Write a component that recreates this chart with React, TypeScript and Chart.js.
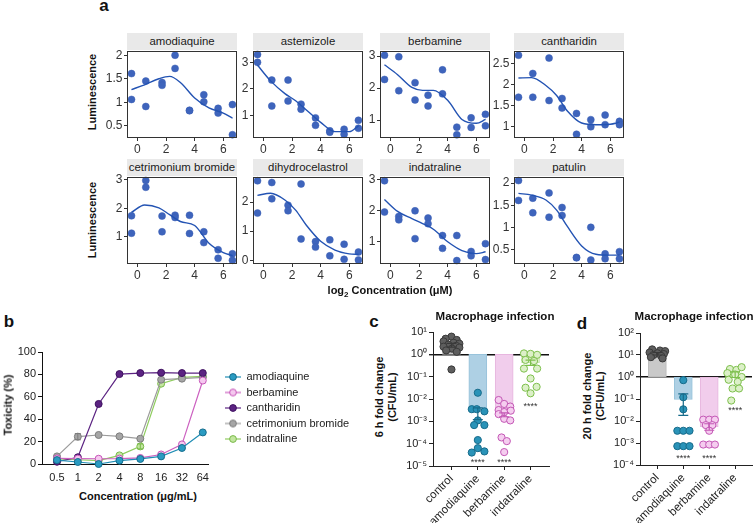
import React, { useEffect, useRef } from 'react';
import { Chart, registerables } from 'chart.js';

Chart.register(...registerables);

const FONT = "'Liberation Sans', Arial, Helvetica, sans-serif";
Chart.defaults.font.family = FONT;
Chart.defaults.font.size = 11;
Chart.defaults.color = '#222';

// ================= Panel a data =================
const aDoseLog2 = [-0.415, 0.585, 1.72, 2.63, 3.64, 4.64, 5.64, 6.64];
const aFitLog2 = [-0.42, 0.5, 1.5, 2.25, 3, 4, 5, 6, 6.65];
const aXTicks = [0, 2, 4, 6];
const aXRange = [-0.73, 6.96];

const amodiaquineRep1 = [1.61, 1.45, 1.42, 2.0, 0.83, 1.16, 0.87, 0.95];
const amodiaquineRep2 = [1.06, 0.91, 1.36, 1.72, 0.82, 1.01, 0.77, 0.31];
const amodiaquineFit = [1.27, 1.37, 1.5, 1.55, 1.42, 1.09, 0.88, 0.77, 0.66];
const amodiaquineYTicks = [0.5, 1, 1.5, 2];
const amodiaquineYRange = [0.24, 2.09];

const astemizoleRep1 = [3.3, 2.33, 2.33, 1.42, 0.9, 0.41, 0.47, 0.81];
const astemizoleRep2 = [3.0, 1.35, 1.54, 1.23, 0.62, 0.36, 0.28, 0.51];
const astemizoleFit = [2.9, 2.3, 1.82, 1.55, 1.2, 0.73, 0.38, 0.38, 0.6];
const astemizoleYTicks = [1, 2, 3];
const astemizoleYRange = [0.14, 3.43];

const berbamineRep1 = [3.03, 2.98, 2.17, 1.78, 2.57, 0.78, 1.07, 1.18];
const berbamineRep2 = [2.27, 1.92, 1.63, 1.44, 1.82, 0.54, 0.77, 0.82];
const berbamineFit = [2.73, 2.42, 2.02, 1.93, 1.93, 1.62, 1.02, 0.9, 1.02];
const berbamineYTicks = [1, 2, 3];
const berbamineYRange = [0.44, 3.16];

const cantharidinRep1 = [2.71, 2.27, 2.64, 1.67, 1.31, 1.16, 1.27, 1.12];
const cantharidinRep2 = [1.7, 1.7, 1.62, 1.44, 0.81, 0.99, 1.04, 1.04];
const cantharidinFit = [2.16, 2.17, 1.98, 1.74, 1.37, 1.08, 1.04, 1.05, 1.1];
const cantharidinYTicks = [1, 1.5, 2, 2.5];
const cantharidinYRange = [0.72, 2.81];

const cetrimoniumRep1 = [1.74, 2.98, 1.73, 1.76, 1.76, 1.18, 0.55, 0.41];
const cetrimoniumRep2 = [1.13, 2.74, 1.18, 1.68, 1.12, 0.8, 0.25, 0.18];
const cetrimoniumFit = [1.86, 2.12, 2.02, 1.78, 1.54, 1.4, 0.78, 0.45, 0.34];
const cetrimoniumYTicks = [1, 2, 3];
const cetrimoniumYRange = [0.05, 3.1];

const dihydrocelastrolRep1 = [2.73, 2.67, 1.89, 2.62, 0.64, 0.7, 0.55, 0.28];
const dihydrocelastrolRep2 = [1.62, 2.11, 1.7, 0.73, 0.45, 0.15, 0.03, 0.01];
const dihydrocelastrolFit = [2.23, 2.3, 2.07, 1.72, 1.2, 0.65, 0.35, 0.22, 0.2];
const dihydrocelastrolYTicks = [0, 1, 2];
const dihydrocelastrolYRange = [-0.13, 2.86];

const indatralineRep1 = [2.95, 1.81, 1.99, 1.76, 1.2, 1.2, 0.69, 0.94];
const indatralineRep2 = [1.95, 1.7, 1.1, 1.58, 0.79, 0.4, 0.55, 0.43];
const indatralineFit = [2.35, 1.97, 1.74, 1.58, 1.4, 1.0, 0.72, 0.62, 0.68];
const indatralineYTicks = [1, 2, 3];
const indatralineYRange = [0.29, 3.07];

const patulinRep1 = [2.06, 1.66, 1.78, 1.45, 0.32, 1.0, 0.4, 0.45];
const patulinRep2 = [1.61, 1.33, 1.23, 1.27, 0.31, 0.26, 0.29, 0.29];
const patulinFit = [1.77, 1.73, 1.62, 1.39, 1.02, 0.58, 0.39, 0.37, 0.37];
const patulinYTicks = [0.5, 1, 1.5, 2];
const patulinYRange = [0.17, 2.14];

const aPanels = [
  { name: 'amodiaquine', rep1: amodiaquineRep1, rep2: amodiaquineRep2, fit: amodiaquineFit, ticks: amodiaquineYTicks, range: amodiaquineYRange },
  { name: 'astemizole', rep1: astemizoleRep1, rep2: astemizoleRep2, fit: astemizoleFit, ticks: astemizoleYTicks, range: astemizoleYRange },
  { name: 'berbamine', rep1: berbamineRep1, rep2: berbamineRep2, fit: berbamineFit, ticks: berbamineYTicks, range: berbamineYRange },
  { name: 'cantharidin', rep1: cantharidinRep1, rep2: cantharidinRep2, fit: cantharidinFit, ticks: cantharidinYTicks, range: cantharidinYRange },
  { name: 'cetrimonium bromide', rep1: cetrimoniumRep1, rep2: cetrimoniumRep2, fit: cetrimoniumFit, ticks: cetrimoniumYTicks, range: cetrimoniumYRange },
  { name: 'dihydrocelastrol', rep1: dihydrocelastrolRep1, rep2: dihydrocelastrolRep2, fit: dihydrocelastrolFit, ticks: dihydrocelastrolYTicks, range: dihydrocelastrolYRange },
  { name: 'indatraline', rep1: indatralineRep1, rep2: indatralineRep2, fit: indatralineFit, ticks: indatralineYTicks, range: indatralineYRange },
  { name: 'patulin', rep1: patulinRep1, rep2: patulinRep2, fit: patulinFit, ticks: patulinYTicks, range: patulinYRange },
];

// ================= Panel b data =================
const bConcLabels = ['0.5', '1', '2', '4', '8', '16', '32', '64'];
const bYTicks = [0, 20, 40, 60, 80, 100];
const bNames = ['amodiaquine', 'berbamine', 'cantharidin', 'cetrimonium bromide', 'indatraline'];
const bAmodiaquine = [3.5, 1.8, 0, 3, 4.5, 6.8, 14.3, 28.2];
const bBerbamine = [5, 4.8, 4.7, 4.8, 5.4, 8.5, 17.5, 74.5];
const bCantharidin = [2, 6, 53.6, 80.3, 81.2, 81.5, 81.2, 81.2];
const bCetrimonium = [6.8, 24.4, 25.9, 24.7, 22.6, 75.3, 76.2, 77.3];
const bIndatraline = [4.5, 3.8, 3, 7.7, 15.7, 71.7, 77.3, 78.3];
const bCetrimoniumSem = [0, 2.8, 0, 0, 0, 0, 0, 0];
const bIndatralineSem = [0, 0, 0, 0, 2.2, 0, 0, 0];

// ================= Panels c / d data =================
const cfuCategories = ['control', 'amodiaquine', 'berbamine', 'indatraline'];

const cYTicks = [1e-5, 1e-4, 1e-3, 1e-2, 1e-1, 1, 10];
const cYLabels = ['10⁻⁵', '10⁻⁴', '10⁻³', '10⁻²', '10⁻¹', '10⁰', '10¹'];
const cMeans = [2.6, 0.004, 0.0024, 0.42];
const cErrLo = [2.1, 0.0012, 0.0016, 0.32];
const cErrHi = [3.1, 0.004, 0.0024, 0.55];
const cStarY = [0, 1.8e-5, 1.8e-5, 0.0054];
const cControlJ = [0, -0.22, 0.2, -0.3, 0.08, 0.3, -0.12, 0.18, -0.3, 0.3, 0.02, -0.2, 0.2, 0];
const cControlY = [6.2, 5.0, 4.4, 3.8, 3.3, 3.0, 2.7, 2.4, 2.2, 2.0, 1.8, 1.5, 1.3, 0.21];
const cAmodiaquineJ = [0, -0.23, -0.04, 0.25, 0, -0.14, 0.25, 0, -0.23, 0, 0.25];
const cAmodiaquineY = [0.019, 0.0035, 0.0035, 0.0028, 0.0011, 0.00068, 0.00068, 0.000145, 0.00004, 0.000063, 0.000045];
const cBerbamineJ = [-0.21, 0, 0.23, -0.21, 0, 0.25, -0.21, 0, 0.23, -0.1, 0.1, 0];
const cBerbamineY = [0.009, 0.006, 0.0046, 0.0032, 0.0026, 0.003, 0.0021, 0.0013, 0.0011, 0.00019, 0.00013, 0.000042];
const cIndatralineJ = [-0.25, 0, 0.25, -0.19, 0.13, -0.25, 0.25, 0, -0.19, 0.23, 0];
const cIndatralineY = [1.1, 1.05, 0.95, 0.56, 0.5, 0.23, 0.23, 0.083, 0.032, 0.035, 0.018];

const dYTicks = [1e-4, 1e-3, 1e-2, 1e-1, 1, 10, 100];
const dYLabels = ['10⁻⁴', '10⁻³', '10⁻²', '10⁻¹', '10⁰', '10¹', '10²'];
const dMeans = [11.5, 0.095, 0.0055, 1.3];
const dErrLo = [10, 0.018, 0.0038, 0.95];
const dErrHi = [13, 0.17, 0.0075, 1.7];
const dStarY = [0, 2.4e-4, 2.4e-4, 0.037];
const dControlJ = [-0.2, 0.1, 0.3, -0.3, 0, 0.25, -0.15, 0.15, -0.25, 0.2];
const dControlY = [18, 16, 15, 13, 12, 11, 10, 9, 8, 7];
const dAmodiaquineJ = [0, 0, 0, -0.23, 0, 0.24, -0.23, 0, 0.24];
const dAmodiaquineY = [0.72, 0.12, 0.034, 0.0036, 0.0036, 0.0036, 0.00072, 0.00072, 0.00072];
const dBerbamineJ = [-0.23, 0, 0.22, -0.13, 0.12, 0, -0.23, 0, 0.22];
const dBerbamineY = [0.0115, 0.0115, 0.0115, 0.0065, 0.0065, 0.0036, 0.00085, 0.00085, 0.00085];
const dIndatralineJ = [-0.2, 0.05, 0.25, -0.3, 0.0, 0.25, -0.25, 0.1, -0.1, 0.15, -0.15];
const dIndatralineY = [2.3, 2.1, 2.8, 1.5, 1.3, 1.0, 0.75, 0.6, 0.3, 0.3, 0.085];

// ================= styles / layout =================
const aColLeft = [127, 253, 380, 514];
const aRowTop = [51, 177];
const aW = 110;
const aH = 87;

const bStyles = [
  { line: '#1f8db4', fill: '#2a9bc2', border: '#166d8d' },
  { line: '#cc60c0', fill: '#f5c8ef', border: '#c654b8' },
  { line: '#5b2382', fill: '#5b2382', border: '#3f1160' },
  { line: '#9b9b9b', fill: '#a6a6a6', border: '#7d7d7d' },
  { line: '#8fcc5f', fill: '#c2e69f', border: '#79b94a' },
];

const cfuBarFill = ['#c9c9c9', '#aed0e4', '#f1cdec', '#ddefca'];
const cfuBarEdge = ['#b8b8b8', '#98c3db', '#e7b6df', '#c8e4ad'];
const cfuPointFill = ['#5e5e5e', '#2a93b8', '#f5cdef', '#dcf0c8'];
const cfuPointEdge = ['#3a3a3a', '#176b8a', '#c357b5', '#7dbf4c'];

type Area = { l: number; t: number; r: number; b: number };
type Pad = { l: number; t: number; r: number; b: number };

function place(area: Area, yW: number, xH: number, pad: Pad, extraRight = 0) {
  const left = Math.floor(area.l - yW - pad.l);
  const top = Math.floor(area.t - pad.t);
  const right = Math.ceil(area.r + extraRight + pad.r);
  const bottom = Math.ceil(area.b + xH + pad.b);
  return {
    rect: { left, top, width: right - left, height: bottom - top },
    padding: {
      left: area.l - yW - left,
      top: area.t - top,
      right: right - (area.r + extraRight),
      bottom: bottom - (area.b + xH),
    },
  };
}

const fixX = (h: number) => (s: any) => {
  s.height = h;
  s.paddingLeft = 0; s.paddingRight = 0; s.paddingTop = 0; s.paddingBottom = 0;
};
const fixY = (w: number) => (s: any) => {
  s.width = w;
  s.paddingLeft = 0; s.paddingRight = 0; s.paddingTop = 0; s.paddingBottom = 0;
};
const setTicks = (vals: number[]) => (s: any) => {
  s.ticks = vals.map((v) => ({ value: v }));
};

const framePlugin = {
  id: 'frame',
  afterDraw(chart: any) {
    const { ctx, chartArea: a } = chart;
    ctx.save();
    ctx.strokeStyle = '#333';
    ctx.lineWidth = 1;
    const l = Math.round(a.left), t = Math.round(a.top), r = Math.round(a.right), b = Math.round(a.bottom);
    ctx.strokeRect(l + 0.5, t + 0.5, r - l - 1, b - t - 1);
    ctx.restore();
  },
};

function ChartCanvas({ rect, build }: { rect: any; build: () => any }) {
  const ref = useRef<HTMLCanvasElement | null>(null);
  useEffect(() => {
    if (!ref.current) return;
    const chart = new Chart(ref.current, build());
    return () => chart.destroy();
  }, []);
  return (
    <canvas
      ref={ref}
      width={rect.width}
      height={rect.height}
      style={{ position: 'absolute', left: rect.left, top: rect.top, width: rect.width, height: rect.height }}
    />
  );
}

function Txt({ x, y, size = 11, bold = true, rot = false, color = '#111', lh = 1.15, children }: any) {
  return (
    <div
      style={{
        position: 'absolute', left: x, top: y,
        transform: `translate(-50%, -50%)${rot ? ' rotate(-90deg)' : ''}`,
        fontSize: size, fontWeight: bold ? 700 : 400, whiteSpace: 'nowrap',
        lineHeight: lh, textAlign: 'center', color, fontFamily: FONT,
      }}
    >
      {children}
    </div>
  );
}

// ================= Panel a =================
function SmallPlot({ p, area }: { p: any; area: Area }) {
  const yW = 26, xH = 18;
  const { rect, padding } = place(area, yW, xH, { l: 2, t: 8, r: 6, b: 2 });
  const build = () => {
    const points = aDoseLog2.flatMap((x, i) => [{ x, y: p.rep1[i] }, { x, y: p.rep2[i] }]);
    const fit = aFitLog2.map((x, i) => ({ x, y: p.fit[i] }));
    return {
      type: 'scatter',
      data: {
        datasets: [
          { data: fit, showLine: true, pointRadius: 0, borderColor: '#2353b3', borderWidth: 1.4, cubicInterpolationMode: 'monotone', order: 0 },
          { data: points, pointRadius: 3.5, pointBackgroundColor: '#3e64bc', pointBorderColor: '#3a5fb5', pointBorderWidth: 0.5, order: 1, clip: false },
        ],
      },
      options: {
        animation: false, responsive: false, events: [],
        layout: { padding, autoPadding: false },
        plugins: { legend: { display: false }, tooltip: { enabled: false } },
        scales: {
          x: {
            type: 'linear', min: aXRange[0], max: aXRange[1],
            afterBuildTicks: setTicks(aXTicks), afterFit: fixX(xH),
            grid: { display: true, drawOnChartArea: false, drawTicks: true, tickLength: 3, tickColor: '#333', lineWidth: 1 },
            border: { display: false },
            ticks: { padding: 1, font: { size: 12 }, color: '#333', autoSkip: false, maxRotation: 0, callback: (v: number) => String(v) },
          },
          y: {
            type: 'linear', min: p.range[0], max: p.range[1],
            afterBuildTicks: setTicks(p.ticks), afterFit: fixY(yW),
            grid: { display: true, drawOnChartArea: false, drawTicks: true, tickLength: 3, tickColor: '#333', lineWidth: 1 },
            border: { display: false },
            ticks: { padding: 1.5, font: { size: 12 }, color: '#333', autoSkip: false, callback: (v: number) => String(v) },
          },
        },
      },
      plugins: [framePlugin],
    };
  };
  return <ChartCanvas rect={rect} build={build} />;
}

// ================= Panel b =================
function legendMarker(fill: string, stroke: string, line: string) {
  const c = document.createElement('canvas');
  c.width = 16; c.height = 10;
  const g = c.getContext('2d')!;
  g.strokeStyle = line; g.lineWidth = 1.2;
  g.beginPath(); g.moveTo(0, 5); g.lineTo(16, 5); g.stroke();
  g.beginPath(); g.arc(8, 5, 3.4, 0, Math.PI * 2);
  g.fillStyle = fill; g.fill();
  g.strokeStyle = stroke; g.lineWidth = 1; g.stroke();
  return c;
}

function ToxicityChart() {
  const area = { l: 42, t: 352, r: 208, b: 464 };
  const legendFontSize = 11, legendPad = 4.5, markerW = 16;
  const m = document.createElement('canvas').getContext('2d')!;
  m.font = `normal ${legendFontSize}px ${FONT}`;
  const maxText = Math.max(...bNames.map((n) => m.measureText(n).width));
  const legendW = Math.floor(legendPad + markerW + legendFontSize / 2 + maxText + 10);
  const yW = 30, xH = 20, dummyW = 12.5;
  const { rect, padding } = place(area, yW, xH, { l: 2, t: 8, r: 4, b: 2 }, dummyW + legendW);
  const build = () => {
    const series = [bAmodiaquine, bBerbamine, bCantharidin, bCetrimonium, bIndatraline];
    const sems = [null, null, null, bCetrimoniumSem, bIndatralineSem];
    const markers = bStyles.map((s) => legendMarker(s.fill, s.border, s.line));
    const errPlugin = {
      id: 'bErr',
      afterDatasetsDraw(chart: any) {
        const { ctx, scales } = chart;
        ctx.save();
        sems.forEach((sem, k) => {
          if (!sem) return;
          sem.forEach((e: number, i: number) => {
            if (!e) return;
            const x = scales.x.getPixelForValue(i);
            const y1 = scales.y.getPixelForValue(series[k][i] - e);
            const y2 = scales.y.getPixelForValue(series[k][i] + e);
            ctx.strokeStyle = bStyles[k].border; ctx.lineWidth = 1;
            ctx.beginPath();
            ctx.moveTo(x, y1); ctx.lineTo(x, y2);
            ctx.moveTo(x - 3, y1); ctx.lineTo(x + 3, y1);
            ctx.moveTo(x - 3, y2); ctx.lineTo(x + 3, y2);
            ctx.stroke();
          });
        });
        ctx.restore();
      },
    };
    return {
      type: 'line',
      data: {
        datasets: series.map((vals, k) => ({
          label: bNames[k],
          data: vals.map((y, i) => ({ x: i, y })),
          borderColor: bStyles[k].line, backgroundColor: bStyles[k].fill,
          pointBackgroundColor: bStyles[k].fill, pointBorderColor: bStyles[k].border,
          pointRadius: 3.5, pointBorderWidth: 1, borderWidth: 1.2, tension: 0, clip: false,
        })),
      },
      options: {
        animation: false, responsive: false, events: [],
        layout: { padding, autoPadding: false },
        plugins: {
          tooltip: { enabled: false },
          legend: {
            display: true, position: 'right', fullSize: false, align: 'center', maxWidth: legendW,
            labels: {
              usePointStyle: true, pointStyleWidth: markerW, padding: legendPad, color: '#222',
              font: { size: legendFontSize },
              generateLabels: (chart: any) =>
                Chart.defaults.plugins.legend.labels.generateLabels(chart).map((it: any, i: number) => ({ ...it, pointStyle: markers[i], lineWidth: 0 })),
            },
          },
        },
        scales: {
          x: {
            type: 'linear', min: -0.72, max: 7.25,
            afterBuildTicks: setTicks(bConcLabels.map((_, i) => i)), afterFit: fixX(xH),
            grid: { display: false, drawTicks: false },
            border: { display: true, color: '#111', width: 1 },
            ticks: { padding: 7, font: { size: 11 }, color: '#222', autoSkip: false, maxRotation: 0, callback: (_v: number, i: number) => bConcLabels[i] },
          },
          y: {
            type: 'linear', min: 0, max: 100,
            afterBuildTicks: setTicks(bYTicks), afterFit: fixY(yW),
            grid: { display: true, drawOnChartArea: false, drawTicks: true, tickLength: 4, tickColor: '#111' },
            border: { display: true, color: '#111', width: 1 },
            ticks: { padding: 2, font: { size: 11 }, color: '#222', callback: (v: number) => String(v) },
          },
          y2: {
            type: 'linear', position: 'right', display: true, min: 0, max: 1,
            grid: { display: false, drawTicks: false }, border: { display: false },
            ticks: { display: false }, afterFit: fixY(dummyW),
          },
        },
      },
      plugins: [errPlugin],
    };
  };
  return <ChartCanvas rect={rect} build={build} />;
}

// ================= Panels c / d =================
function CfuChart(o: any) {
  const { area, yW, xH, xMin, xMax, yTicks, yLabels, means, errLo, errHi, starY, pointsJ, pointsY } = o;
  const { rect, padding } = place(area, yW, xH, { l: 2, t: 8, r: 3, b: 1 });
  const build = () => {
    const annot = {
      id: 'annot',
      afterDatasetsDraw(chart: any) {
        const { ctx, scales } = chart;
        ctx.save();
        cfuCategories.forEach((_, i) => {
          const x = scales.x.getPixelForValue(i);
          const y1 = scales.y.getPixelForValue(errLo[i]);
          const y2 = scales.y.getPixelForValue(errHi[i]);
          ctx.strokeStyle = cfuPointEdge[i]; ctx.lineWidth = 1.2;
          ctx.beginPath();
          ctx.moveTo(x, y1); ctx.lineTo(x, y2);
          ctx.moveTo(x - 5, y1); ctx.lineTo(x + 5, y1);
          ctx.moveTo(x - 5, y2); ctx.lineTo(x + 5, y2);
          ctx.stroke();
          if (starY[i]) {
            ctx.fillStyle = '#333';
            ctx.font = `9px ${FONT}`;
            ctx.textAlign = 'center'; ctx.textBaseline = 'middle';
            ctx.fillText('****', x, scales.y.getPixelForValue(starY[i]) + 2);
          }
        });
        ctx.restore();
      },
    };
    const scatterSets = cfuCategories.map((_, i) => ({
      type: 'scatter',
      data: pointsY[i].map((y: number, k: number) => ({ x: i + pointsJ[i][k], y })),
      pointRadius: 3.6, pointBorderWidth: 1,
      pointBackgroundColor: cfuPointFill[i], pointBorderColor: cfuPointEdge[i],
      order: 1, clip: false,
    }));
    return {
      type: 'bar',
      data: {
        datasets: [
          {
            type: 'bar',
            data: cfuCategories.map((_, i) => ({ x: i, y: [1, means[i]] })),
            backgroundColor: cfuBarFill, borderColor: cfuBarEdge, borderWidth: 1,
            barThickness: 18, borderSkipped: false, order: 3,
          },
          ...scatterSets,
        ],
      },
      options: {
        animation: false, responsive: false, events: [],
        layout: { padding, autoPadding: false },
        plugins: { legend: { display: false }, tooltip: { enabled: false } },
        scales: {
          x: {
            type: 'linear', min: xMin, max: xMax, offset: false,
            afterBuildTicks: setTicks(cfuCategories.map((_, i) => i)), afterFit: fixX(xH),
            grid: { display: true, offset: false, drawOnChartArea: false, drawTicks: true, tickLength: 4, tickColor: '#222' },
            border: { display: true, color: '#222', width: 1 },
            ticks: { padding: 2, font: { size: 11.5 }, color: '#222', autoSkip: false, minRotation: 45, maxRotation: 45, callback: (_v: number, i: number) => cfuCategories[i] },
          },
          y: {
            type: 'logarithmic', min: yTicks[0], max: yTicks[yTicks.length - 1],
            afterBuildTicks: setTicks(yTicks), afterFit: fixY(yW),
            grid: {
              display: true, drawOnChartArea: true, drawTicks: true, tickLength: 4, tickColor: '#222',
              color: (c: any) => (c.tick && c.tick.value === 1 ? '#111' : 'rgba(0,0,0,0)'),
              lineWidth: (c: any) => (c.tick && c.tick.value === 1 ? 1.4 : 1),
            },
            border: { display: true, color: '#222', width: 1 },
            ticks: { padding: 2, font: { size: 11 }, color: '#222', autoSkip: false, callback: (_v: number, i: number) => yLabels[i] },
          },
        },
      },
      plugins: [annot],
    };
  };
  return <ChartCanvas rect={rect} build={build} />;
}

export default function App() {
  return (
    <div style={{ position: 'fixed', left: 0, top: 0, width: 756, height: 525, background: '#fff', overflow: 'hidden', fontFamily: FONT }}>
      {/* panel letters */}
      <Txt x={104} y={6} size={17}>a</Txt>
      <Txt x={9} y={322} size={17}>b</Txt>
      <Txt x={374} y={322} size={17}>c</Txt>
      <Txt x={582} y={324} size={17}>d</Txt>

      {/* panel a */}
      {aPanels.map((p, idx) => {
        const l = aColLeft[idx % 4];
        const t = aRowTop[Math.floor(idx / 4)];
        return (
          <React.Fragment key={p.name}>
            <div
              style={{
                position: 'absolute', left: l, top: t - 18, width: aW, height: 17,
                background: '#e9e9e9', color: '#1a1a1a', fontSize: 11.4, lineHeight: '17px',
                textAlign: 'center', whiteSpace: 'nowrap', fontFamily: FONT, overflow: 'hidden',
              }}
            >
              {p.name}
            </div>
            <SmallPlot p={p} area={{ l, t, r: l + aW, b: t + aH }} />
          </React.Fragment>
        );
      })}
      <Txt x={92} y={92} rot>Luminescence</Txt>
      <Txt x={92} y={220} rot>Luminescence</Txt>
      <Txt x={390} y={290}>
        log<sub style={{ fontSize: 8, verticalAlign: 'sub', lineHeight: 0 }}>2</sub> Concentration (μM)
      </Txt>

      {/* panel b */}
      <ToxicityChart />
      <Txt x={7.5} y={405} rot>Toxicity (%)</Txt>
      <Txt x={138} y={496}>Concentration (μg/mL)</Txt>

      {/* panel c */}
      <Txt x={495} y={317} size={11.5}>Macrophage infection</Txt>
      <Txt x={384.5} y={397} rot lh="12.5px">6 h fold change<br />(CFU/mL)</Txt>
      <CfuChart
        area={{ l: 433, t: 332, r: 549, b: 466 }} yW={30} xH={57} xMin={-0.7} xMax={3.7}
        yTicks={cYTicks} yLabels={cYLabels} means={cMeans} errLo={cErrLo} errHi={cErrHi} starY={cStarY}
        pointsJ={[cControlJ, cAmodiaquineJ, cBerbamineJ, cIndatralineJ]}
        pointsY={[cControlY, cAmodiaquineY, cBerbamineY, cIndatralineY]}
      />

      {/* panel d */}
      <Txt x={694} y={317} size={11.5}>Macrophage infection</Txt>
      <Txt x={593} y={396} rot lh="12.5px">20 h fold change<br />(CFU/mL)</Txt>
      <CfuChart
        area={{ l: 640, t: 333, r: 752, b: 465 }} yW={30} xH={58} xMin={-0.67} xMax={3.65}
        yTicks={dYTicks} yLabels={dYLabels} means={dMeans} errLo={dErrLo} errHi={dErrHi} starY={dStarY}
        pointsJ={[dControlJ, dAmodiaquineJ, dBerbamineJ, dIndatralineJ]}
        pointsY={[dControlY, dAmodiaquineY, dBerbamineY, dIndatralineY]}
      />
    </div>
  );
}
